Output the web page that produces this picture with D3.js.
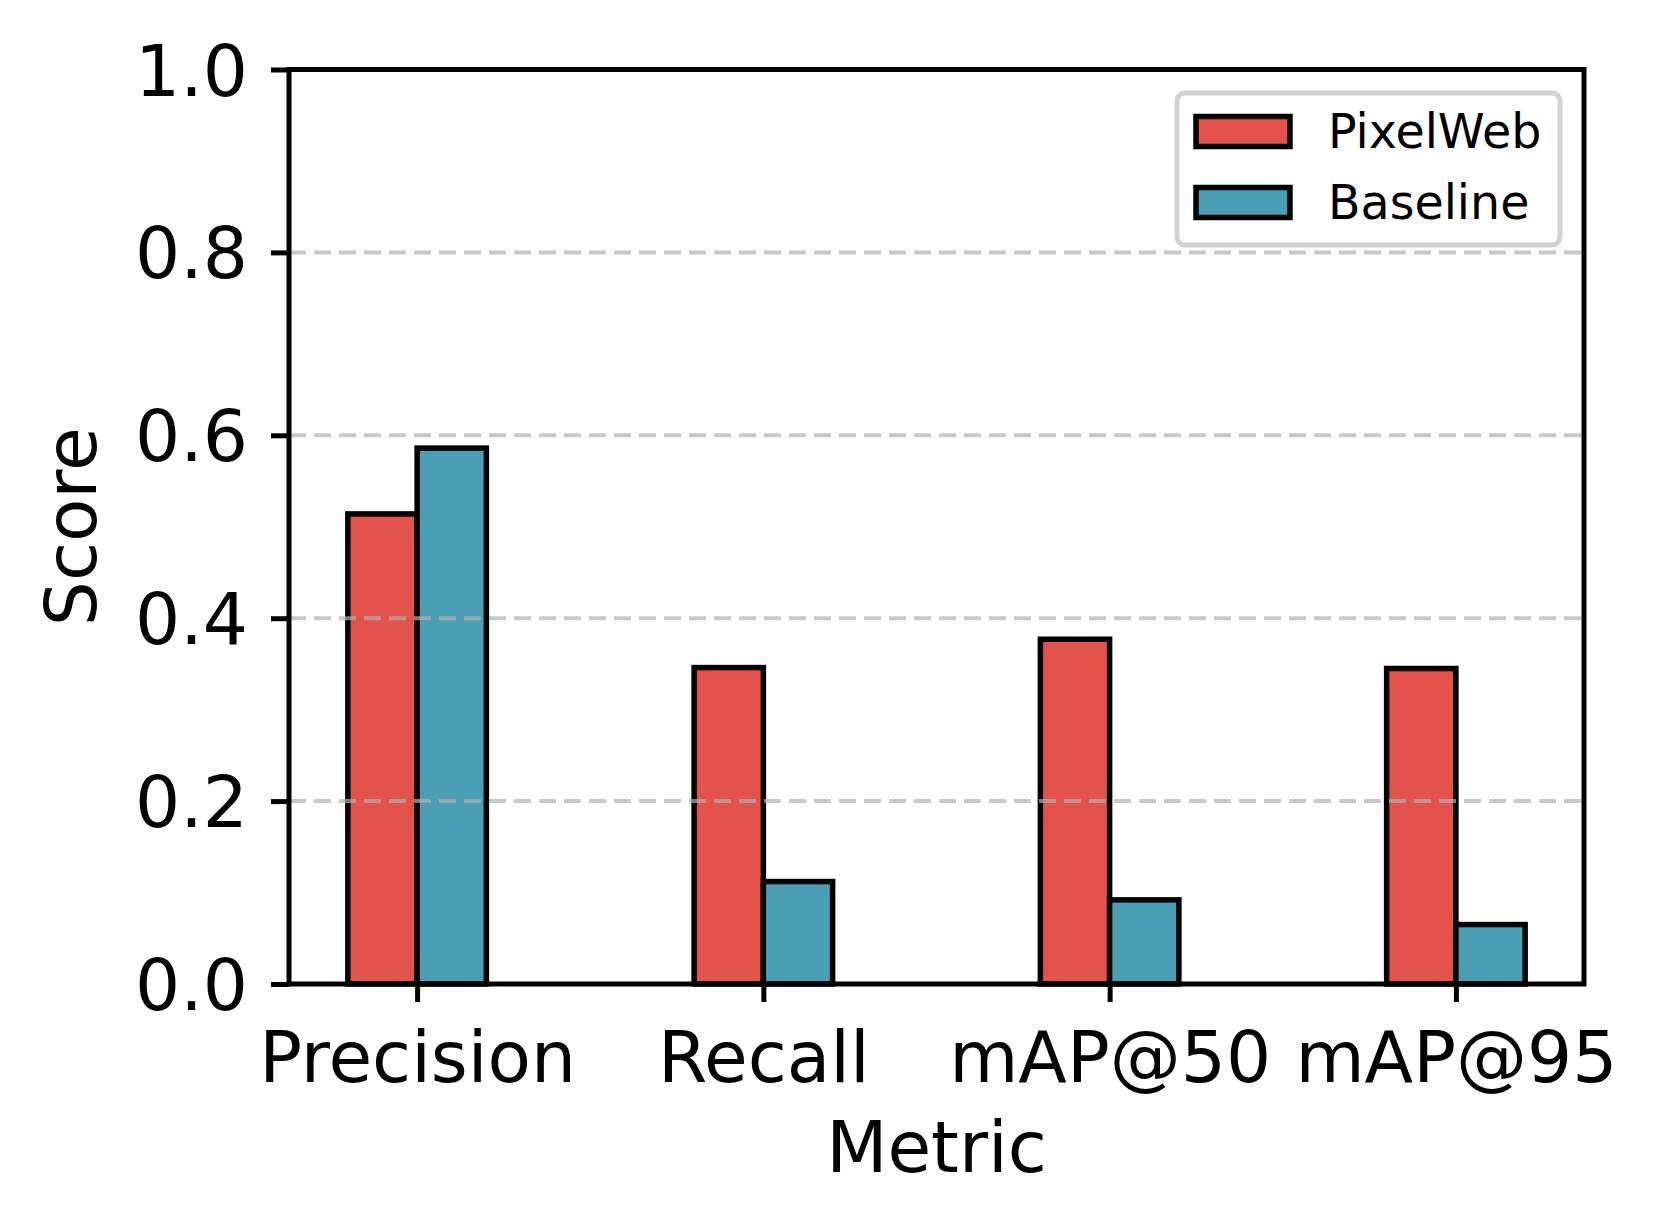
<!DOCTYPE html>
<html>
<head>
<meta charset="utf-8">
<script src="https://cdn.jsdelivr.net/npm/d3@7"></script>
<style>
  html, body { margin: 0; padding: 0; background: #fff; }
  svg { display: block; }
  text { font-family: "DejaVu Sans", sans-serif; fill: #000; }
</style>
</head>
<body>
<svg id="chart" width="1659" height="1230"></svg>
<script>
// ---- data ----
const categories = ["Precision", "Recall", "mAP@50", "mAP@95"];
const seriesNames = ["PixelWeb", "Baseline"];
const pixelWeb = [0.514, 0.346, 0.377, 0.345];
const baseline = [0.586, 0.112, 0.092, 0.065];
const yTicks = [0.0, 0.2, 0.4, 0.6, 0.8, 1.0];
const gridTicks = [0.2, 0.4, 0.6, 0.8];
const colors = ["#e3534b", "#4a9fb5"];

(function () {
  // ---- layout ----
  const pLeft = 289, pRight = 1584, pTop = 69.5, pBottom = 984;
  const barW = 0.2;

  const svg = d3.select("#chart");

  const x = d3.scaleLinear().domain([-0.37, 3.37]).range([pLeft, pRight]);
  const y = d3.scaleLinear().domain([0, 1]).range([pBottom, pTop]);

  const series = [pixelWeb, baseline];
  const offsets = [-barW, 0];

  // bars
  series.forEach((vals, si) => {
    svg.append("g").selectAll("rect")
      .data(vals)
      .join("rect")
      .attr("x", (d, i) => x(i + offsets[si]))
      .attr("width", (d, i) => x(i + offsets[si] + barW) - x(i + offsets[si]))
      .attr("y", d => y(d))
      .attr("height", d => y(0) - y(d))
      .attr("fill", colors[si])
      .attr("stroke", "#000")
      .attr("stroke-width", 5.5);
  });

  // gridlines (above bars)
  svg.append("g").selectAll("line")
    .data(gridTicks)
    .join("line")
    .attr("x1", pLeft).attr("x2", pRight)
    .attr("y1", d => y(d)).attr("y2", d => y(d))
    .attr("stroke", "#b0b0b0")
    .attr("stroke-opacity", 0.7)
    .attr("stroke-width", 4)
    .attr("stroke-dasharray", "17 8");

  // spines
  svg.append("rect")
    .attr("x", pLeft).attr("y", pTop)
    .attr("width", pRight - pLeft).attr("height", pBottom - pTop)
    .attr("fill", "none").attr("stroke", "#000").attr("stroke-width", 5);

  // y axis
  const yAxis = d3.axisLeft(y).tickValues(yTicks).tickFormat(d3.format(".1f"))
    .tickSize(18).tickPadding(23);
  const gy = svg.append("g").attr("transform", `translate(${pLeft},0)`).call(yAxis);
  gy.select(".domain").remove();
  gy.selectAll(".tick line").attr("stroke", "#000").attr("stroke-width", 5);
  gy.selectAll(".tick text")
    .attr("font-size", 71).attr("font-family", "DejaVu Sans").attr("fill", "#000")
    .attr("dy", "0.36em");

  // x axis
  const xAxis = d3.axisBottom(x).tickValues(d3.range(categories.length))
    .tickFormat(i => categories[i]).tickSize(18).tickPadding(30);
  const gx = svg.append("g").attr("transform", `translate(0,${pBottom})`).call(xAxis);
  gx.select(".domain").remove();
  gx.selectAll(".tick line").attr("stroke", "#000").attr("stroke-width", 5);
  gx.selectAll(".tick text")
    .attr("font-size", 71).attr("font-family", "DejaVu Sans").attr("fill", "#000")
    .attr("dy", "0.71em");

  // axis labels
  svg.append("text")
    .attr("x", (pLeft + pRight) / 2).attr("y", 1172)
    .attr("text-anchor", "middle").attr("font-size", 71)
    .text("Metric");
  svg.append("text")
    .attr("transform", `translate(${96},${(pTop + pBottom) / 2}) rotate(-90)`)
    .attr("text-anchor", "middle").attr("font-size", 71)
    .text("Score");

  // legend
  const lg = svg.append("g");
  lg.append("rect")
    .attr("x", 1177).attr("y", 93).attr("width", 383).attr("height", 152)
    .attr("rx", 8).attr("ry", 8)
    .attr("fill", "#fff").attr("fill-opacity", 0.8)
    .attr("stroke", "#d2d2d2").attr("stroke-width", 5);
  seriesNames.forEach((name, i) => {
    const cy = 131.5 + i * 71;
    lg.append("rect")
      .attr("x", 1196).attr("y", cy - 15).attr("width", 94).attr("height", 30)
      .attr("fill", colors[i]).attr("stroke", "#000").attr("stroke-width", 5.5);
    lg.append("text")
      .attr("x", 1328).attr("y", cy + 16)
      .attr("font-size", 47.5)
      .text(name);
  });
})();
</script>
</body>
</html>
